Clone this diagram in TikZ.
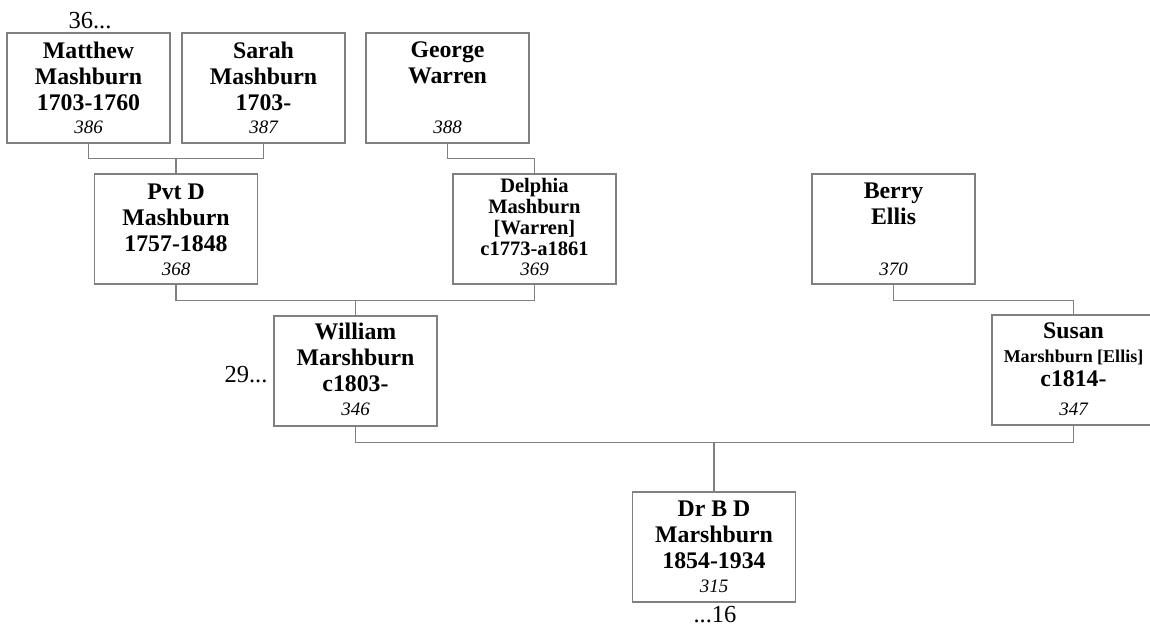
\documentclass[tikz,border=0pt]{standalone}
\usepackage{fontspec}
\setmainfont{Liberation Serif}
\begin{document}
\begin{tikzpicture}[x=1pt,y=-1pt,
  pbox/.style={draw=linegray,line width=1.3pt,minimum width=163pt,minimum height=110pt,inner sep=0pt,fill=white},
  ptext/.style={anchor=base,align=center,inner sep=0pt,font=\fontsize{23.8}{26}\selectfont\bfseries},
  stext/.style={anchor=base,align=center,inner sep=0pt,font=\fontsize{20.5}{21}\selectfont\bfseries},
  pnum/.style={anchor=base,inner sep=0pt,font=\fontsize{19}{22}\selectfont\itshape},
  more/.style={anchor=base,inner sep=0pt,font=\fontsize{24.5}{26}\selectfont},
  conn/.style={draw=linegray,line width=1.3pt}]
\definecolor{linegray}{RGB}{128,128,128}
\useasboundingbox (0,0) rectangle (1150,627);
% boxes
\node[pbox] (mat) at (88.5,88) {};
\node[pbox] (sar) at (263.5,88) {};
\node[pbox] (geo) at (447.5,88) {};
\node[pbox] (pvt) at (176,229) {};
\node[pbox] (del) at (534.5,229) {};
\node[pbox] (ber) at (893.5,229) {};
\node[pbox] (wil) at (355.5,371) {};
\node[pbox] (sus) at (1073.5,370) {};
\node[pbox] (dr) at (714,547) {};
% texts (anchored at the baseline of the last line)
\node[ptext] (mat-t) at ([yshift=-78pt]mat.north) {Matthew\\Mashburn\\1703-1760};
\node[ptext] (sar-t) at ([yshift=-78pt]sar.north) {Sarah\\Mashburn\\1703-};
\node[ptext] (geo-t) at ([yshift=-51pt]geo.north) {George\\Warren};
\node[ptext] (pvt-t) at ([yshift=-78pt]pvt.north) {Pvt D\\Mashburn\\1757-1848};
\node[stext] (del-t) at ([yshift=-82pt]del.north) {Delphia\\Mashburn\\{[Warren]}\\c1773-a1861};
\node[ptext] (ber-t) at ([yshift=-51pt]ber.north) {Berry\\Ellis};
\node[ptext] (wil-t) at ([yshift=-76pt]wil.north) {William\\Marshburn\\c1803-};
\node[ptext,font=\fontsize{23.8}{24}\selectfont\bfseries] (sus-t) at ([yshift=-72pt]sus.north) {Susan\\{\fontsize{18}{21}\selectfont Marshburn [Ellis]}\\c1814-};
\node[ptext] (dr-t) at ([yshift=-77pt]dr.north) {Dr B D\\Marshburn\\1854-1934};
% numbers
\node[pnum] (mat-n) at ([yshift=10pt]mat.south) {386};
\node[pnum] (sar-n) at ([yshift=10pt]sar.south) {387};
\node[pnum] (geo-n) at ([yshift=10pt]geo.south) {388};
\node[pnum] (pvt-n) at ([yshift=9pt]pvt.south) {368};
\node[pnum] (del-n) at ([yshift=9pt]del.south) {369};
\node[pnum] (ber-n) at ([yshift=9pt]ber.south) {370};
\node[pnum] (wil-n) at ([yshift=11pt]wil.south) {346};
\node[pnum] (sus-n) at ([yshift=10pt]sus.south) {347};
\node[pnum] (dr-n) at ([yshift=10pt]dr.south) {315};
% continuation marks
\node[more] (m36) at (90,28) {36...};
\node[more] (m29) at (246,382) {29...};
\node[more] (m16) at (715,622) {...16};
% connectors
\coordinate (b1) at (176,158);
\draw[conn] (mat.south) -- ++(0,15) -| (sar.south);
\draw[conn] (pvt.north) -- (pvt.north |- b1);
\draw[conn] (geo.south) -- ++(0,15) -| (del.north);
\coordinate (b2) at (356,300);
\draw[conn] (pvt.south) -- ++(0,16) -| (del.south);
\draw[conn] (wil.north) -- (wil.north |- b2);
\draw[conn] (ber.south) -- ++(0,16) -| (sus.north);
\coordinate (b3) at (715,442);
\draw[conn] (wil.south) -- ++(0,16) -| (sus.south);
\draw[conn] (dr.north) -- (dr.north |- b3);
\end{tikzpicture}
\end{document}
